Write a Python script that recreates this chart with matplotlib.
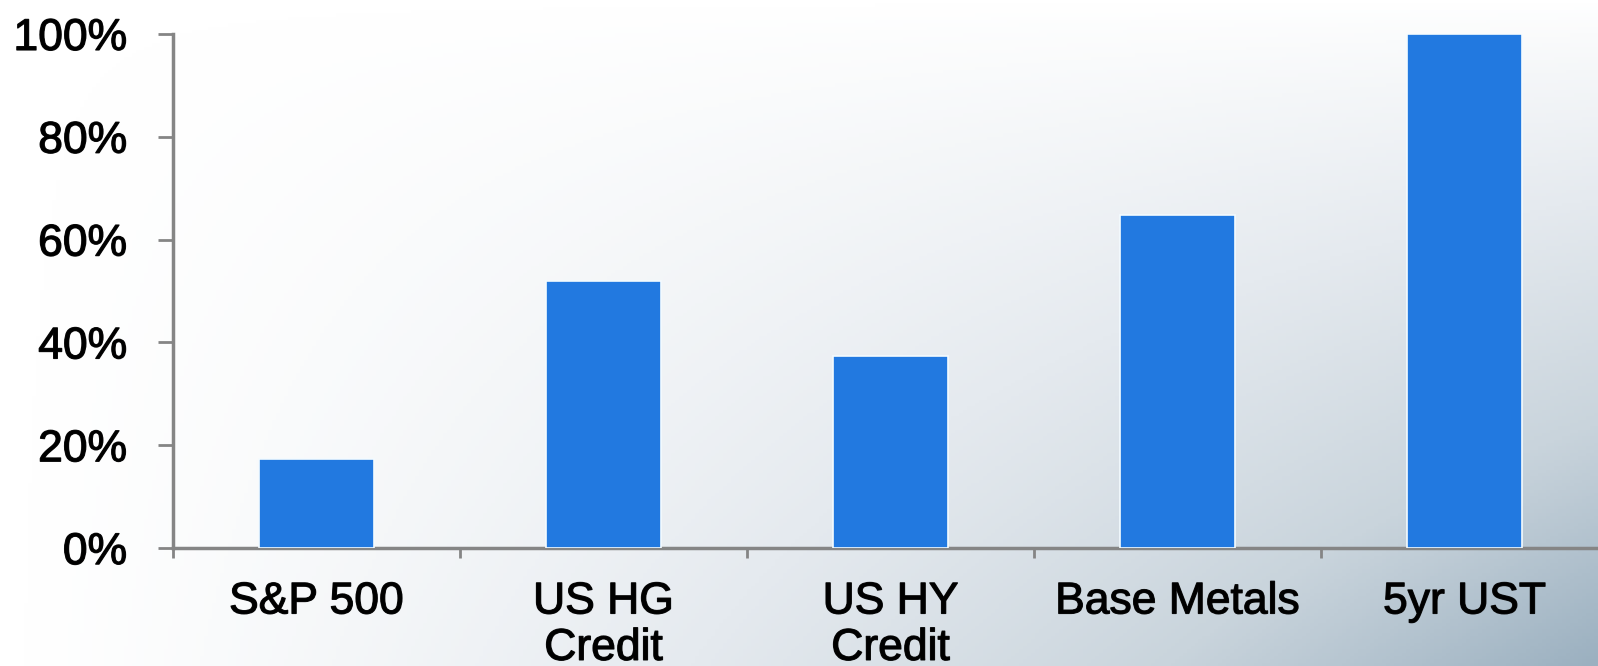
import numpy as np
import matplotlib.pyplot as plt
import matplotlib.patheffects as pe
from matplotlib.colors import LinearSegmentedColormap

plt.rcParams['font.family'] = ['Liberation Sans', 'DejaVu Sans']

categories = ["S&P 500", "US HG\nCredit", "US HY\nCredit", "Base Metals", "5yr UST"]
values = [17.4, 51.9, 37.4, 64.8, 100.0]
yticks = [0, 20, 40, 60, 80, 100]

fig = plt.figure(figsize=(15.98, 6.66), dpi=100)

# background gradient, white top-left to grey-blue bottom-right
bg = fig.add_axes([0, 0, 1, 1], zorder=-10)
gx, gy = np.meshgrid(np.linspace(0, 1, 400), np.linspace(0, 1, 200))
t = (gx ** 1.3) * (gy ** 0.9)
cmap = LinearSegmentedColormap.from_list("bg", ["#ffffff", "#e5eaef", "#c9d4dc", "#9bb0c0"])
bg.imshow(t, cmap=cmap, aspect="auto", extent=[0, 1, 0, 1], origin="upper")
bg.axis("off")

ax = fig.add_axes([0.1083, 0.177, 0.898, 0.772])
ax.patch.set_alpha(0)
x = np.arange(len(categories))
ax.bar(x, values, width=0.4, color="#2279e0", edgecolor="#f4fbff", linewidth=1.2, zorder=3)

ax.set_xlim(-0.5, len(categories) - 0.5)
ax.set_ylim(0, 100)
ax.set_yticks(yticks)
ax.set_yticklabels([f"{v}%" for v in yticks])

ax.set_xticks(np.arange(len(categories) + 1) - 0.5)
ax.set_xticklabels([])
ax.set_xticks(x, minor=True)
ax.set_xticklabels(categories, minor=True, linespacing=1.17)

for s in ["top", "right"]:
    ax.spines[s].set_visible(False)
for s in ["left", "bottom"]:
    ax.spines[s].set_color("#858585")
    ax.spines[s].set_linewidth(2.5)

ax.tick_params(axis="y", length=11, width=2, color="#858585", labelsize=32, pad=22)
ax.tick_params(axis="x", which="major", length=7, width=2, color="#858585")
ax.tick_params(axis="x", which="minor", length=0, labelsize=32, pad=24)

# slightly heavier text like the original
for lbl in ax.get_yticklabels() + ax.get_xticklabels(minor=True):
    lbl.set_path_effects([pe.withStroke(linewidth=0.9, foreground="#111111")])

fig.savefig("out.png", dpi=100)
